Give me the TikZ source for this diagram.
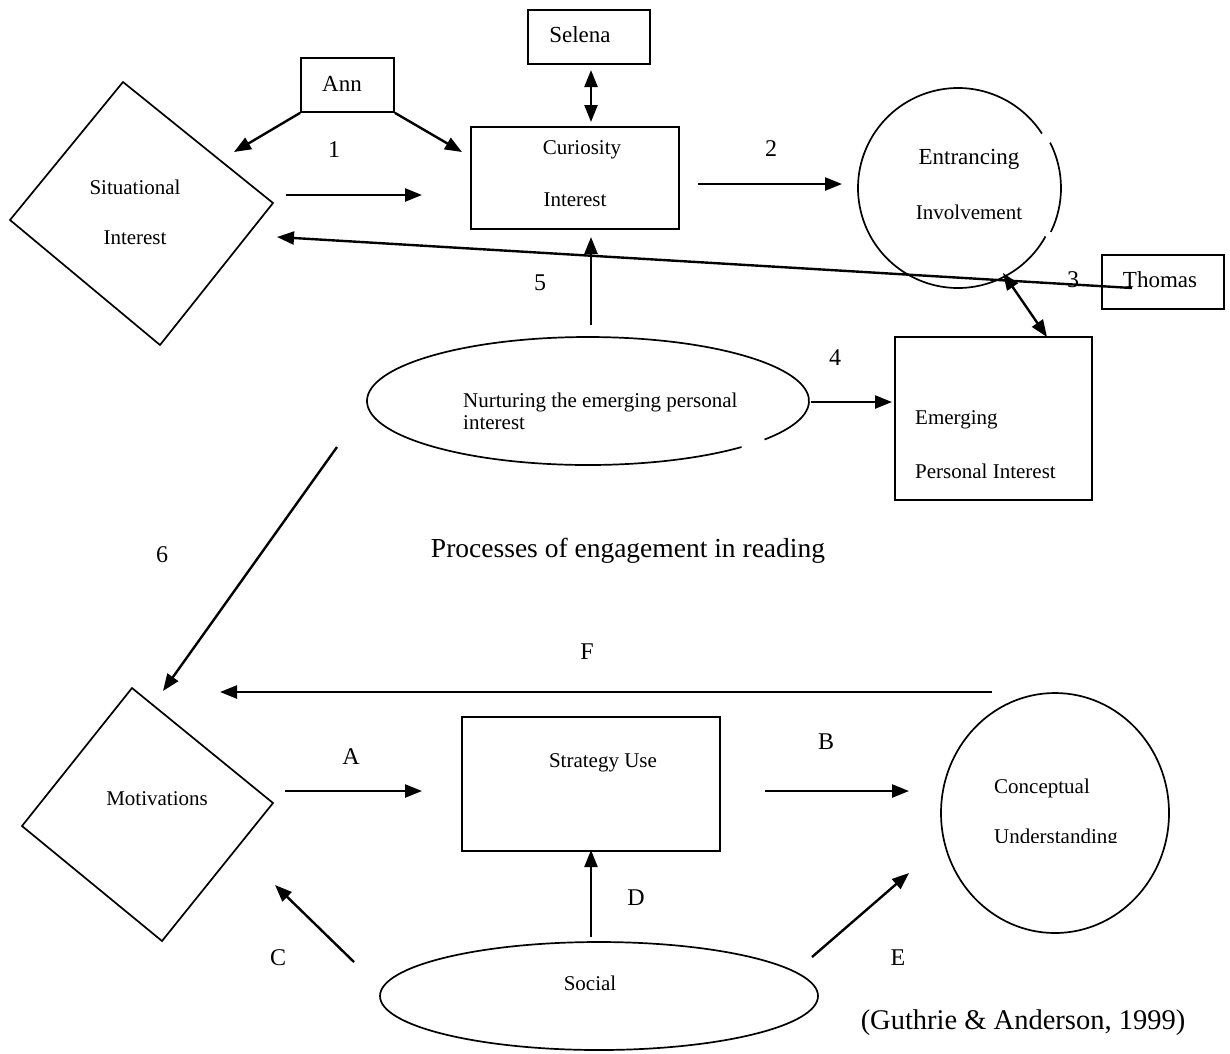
\documentclass[tikz,border=0pt]{standalone}
\usepackage{fontspec}
\setmainfont{Liberation Serif}
\usetikzlibrary{arrows.meta,shapes.geometric,calc}
\begin{document}
\begin{tikzpicture}[x=1pt,y=-1pt,
  shapeline/.style={draw=black,line width=1.7pt},
  boxnode/.style={shapeline,rectangle,inner sep=0pt},
  ovalnode/.style={shapeline,ellipse,inner sep=0pt},
  small/.style={font=\fontsize{21}{22}\selectfont,inner sep=0pt},
  mid/.style={font=\fontsize{23}{24}\selectfont,inner sep=0pt},
  lab/.style={font=\fontsize{24}{26}\selectfont,inner sep=0pt},
  big/.style={font=\fontsize{27.5}{30}\selectfont,inner sep=0pt},
  arr/.style={line width=2.4pt,-{Triangle[length=17pt,width=13pt]}},
  darr/.style={line width=2.4pt,{Triangle[length=17pt,width=13pt]}-{Triangle[length=17pt,width=13pt]}}
]
\useasboundingbox[fill=white] (0,0) rectangle (1230,1053);

% ---------- top part ----------
\node[boxnode,minimum width=122pt,minimum height=54pt] (sel) at (589,37) {};
\node[mid] (selt) at (580,35) {Selena};
\node[boxnode,minimum width=93pt,minimum height=54pt] (ann) at (347.5,85) {};
\node[mid] (annt) at (342,84) {Ann};
\node[boxnode,minimum width=208pt,minimum height=102pt] (cur) at (575,178) {};
\node[small] (curt1) at (582,150) {Curiosity};
\node[small] (curt2) at (575,200) {Interest};
% Entrancing circle (drawn as arcs, with the small breaks of the original)
\node[ellipse,minimum width=200pt,minimum height=200pt,inner sep=0pt] (ent) at (958,188) {};
\draw[shapeline] ($(ent.center)+(29:100)$) arc[start angle=29,end angle=327,radius=100];
\draw[shapeline] ($(ent.center)+(3,0)+(-27:100)$) arc[start angle=-27,end angle=26,radius=100];
\node[mid] (entt1) at (969,159) {Entrancing};
\node[small] (entt2) at (969,212) {Involvement};
\node[boxnode,minimum width=122pt,minimum height=54pt] (tho) at (1163,282) {};
\node[mid] (thot) at (1160,280) {Thomas};
\node[boxnode,minimum width=197pt,minimum height=163pt] (emg) at (993.5,418.5) {};
\node[small,anchor=west] (emgt1) at (915,420) {Emerging};
\node[small,anchor=west] (emgt2) at (915,471) {Personal Interest};
% Nurturing ellipse (with the small break of the original)
\node[ellipse,minimum width=442pt,minimum height=128pt,inner sep=0pt] (nur) at (588,401) {};
\draw[shapeline] ($(nur.center)+(46:221 and 64)$) arc[start angle=46,end angle=397,x radius=221,y radius=64];
\node[small,anchor=west,align=left] (nurt) at (463,411) {Nurturing the emerging personal\\interest};

\draw[shapeline] (10,220) coordinate (sitl) -- (123,82) coordinate (sitt) -- (273,203) coordinate (sitr) -- (160,345) coordinate (sitb) -- cycle;
\node[small] (sitt1) at (135,187) {Situational};
\node[small] (sitt2) at (135,238) {Interest};

% connectors (top)
\coordinate (a1) at (234,152);
\coordinate (a2) at (462,152);
\draw[arr] (ann.south west) -- (a1);
\draw[arr] (ann.south east) -- (a2);
\coordinate (s1) at (591,70); \coordinate (s2) at (591,122);
\draw[darr] (s1) -- (s2);
\coordinate (p1s) at (286,195); \coordinate (p1e) at (422,195);
\draw[arr] (p1s) -- (p1e);
\coordinate (p2s) at (698,184); \coordinate (p2e) at (842,184);
\draw[arr] (p2s) -- (p2e);
\coordinate (p3s) at (1132,288); \coordinate (p3e) at (277,237);
\draw[arr] (p3s) -- (p3e);
\coordinate (p5s) at (591,325); \coordinate (p5e) at (591,237);
\draw[arr] (p5s) -- (p5e);
\coordinate (q1) at (1003,273); \coordinate (q2) at (1047,337);
\draw[darr] (q1) -- (q2);
\coordinate (p4s) at (811,402); \coordinate (p4e) at (892,402);
\draw[arr] (p4s) -- (p4e);
\coordinate (p6s) at (337,447); \coordinate (p6e) at (163,691);
\draw[arr] (p6s) -- (p6e);

\node[lab] (l1) at (334,150) {1};
\node[lab] (l2) at (771,149) {2};
\node[lab] (l3) at (1073,280) {3};
\node[lab] (l4) at (835,358) {4};
\node[lab] (l5) at (540,283) {5};
\node[lab] (l6) at (162,555) {6};

\node[big] (title) at (628,551) {Processes of engagement in reading};

% ---------- bottom part ----------
\draw[shapeline] (22,826) coordinate (motl) -- (132,688) coordinate (mott) -- (273,803) coordinate (motr) -- (162,941) coordinate (motb) -- cycle;
\node[small] (mott1) at (157,799) {Motivations};
\node[boxnode,minimum width=258pt,minimum height=134pt] (str) at (591,784) {};
\node[small] (strt) at (603,763) {Strategy Use};
\node[ovalnode,minimum width=228pt,minimum height=240pt] (con) at (1055,813) {};
\node[small,anchor=west] (cont1) at (994,788) {Conceptual};
\begin{scope}
\clip (980,820) rectangle (1140,842);
\node[small,anchor=west] (cont2) at (994,838) {Understanding};
\end{scope}
\node[ovalnode,minimum width=438pt,minimum height=108pt] (soc) at (599,996) {};
\node[small] (soct) at (590,983) {Social};

\coordinate (fs) at (992,692); \coordinate (fe) at (220,692);
\draw[arr] (fs) -- (fe);
\coordinate (as) at (285,791); \coordinate (ae) at (422,791);
\draw[arr] (as) -- (ae);
\coordinate (bs) at (765,791); \coordinate (be) at (909,791);
\draw[arr] (bs) -- (be);
\coordinate (ds) at (591,937); \coordinate (de) at (591,850);
\draw[arr] (ds) -- (de);
\coordinate (cs) at (354,962); \coordinate (ce) at (275,885);
\draw[arr] (cs) -- (ce);
\coordinate (es) at (812,957); \coordinate (ee) at (909,873);
\draw[arr] (es) -- (ee);

\node[lab] (lF) at (587,652) {F};
\node[lab] (lA) at (351,757) {A};
\node[lab] (lB) at (826,742) {B};
\node[lab] (lC) at (278,958) {C};
\node[lab] (lD) at (636,898) {D};
\node[lab] (lE) at (898,958) {E};

\node[big,font=\fontsize{28.5}{30}\selectfont] (cite) at (1023,1023) {(Guthrie \& Anderson, 1999)};
\end{tikzpicture}
\end{document}
